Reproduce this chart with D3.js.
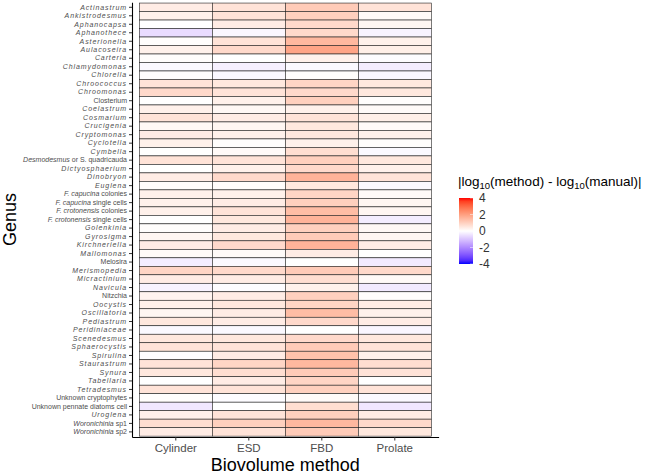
<!DOCTYPE html>
<html>
<head>
<meta charset="utf-8">
<script src="https://cdn.jsdelivr.net/npm/d3@7"></script>
<style>
  body { margin: 0; background: #fff; }
  svg { font-family: "Liberation Sans", Arial, sans-serif; }
</style>
</head>
<body>
<div id="chart"></div>
<script>
// genera, top to bottom
const genera = [
  'Actinastrum', 'Ankistrodesmus', 'Aphanocapsa', 'Aphanothece', 'Asterionella', 'Aulacoseira',
  'Carteria', 'Chlamydomonas', 'Chlorella', 'Chroococcus', 'Chroomonas', 'Closterium',
  'Coelastrum', 'Cosmarium', 'Crucigenia', 'Cryptomonas', 'Cyclotella', 'Cymbella',
  'Desmodesmus or S. quadricauda', 'Dictyosphaerium', 'Dinobryon', 'Euglena',
  'F. capucina colonies', 'F. capucina single cells', 'F. crotonensis colonies',
  'F. crotonensis single cells', 'Golenkinia', 'Gyrosigma', 'Kirchneriella', 'Mallomonas',
  'Melosira', 'Merismopedia', 'Micractinium', 'Navicula', 'Nitzchia', 'Oocystis',
  'Oscillatoria', 'Pediastrum', 'Peridiniaceae', 'Scenedesmus', 'Sphaerocystis', 'Spirulina',
  'Staurastrum', 'Synura', 'Tabellaria', 'Tetradesmus', 'Unknown cryptophytes',
  'Unknown pennate diatoms cell', 'Uroglena', 'Woronichinia sp1', 'Woronichinia sp2'
];

const methods = ['Cylinder', 'ESD', 'FBD', 'Prolate'];

// values per method, same order as genera
const cylinder = [0.4, 0.3, 0.0, -0.6, 0.05, 0.3, 0.05, -0.1, 0.05, 0.6, 0.8, 0.0,
  0.3, 0.6, 0.15, 0.4, 0.3, 0.0, 0.6, 0.0, 0.4, 0.05, 0.3, 0.3, 0.3,
  0.0, 0.05, 0.2, 0.4, 0.1, -0.3, 0.9, 0.4, -0.2, 0.25, 0.3,
  0.2, 0.5, -0.1, 0.5, 0.6, -0.05, 0.6, 0.5, 0.0, 0.6, 0.05,
  -0.4, 0.3, 0.7, 0.4];
const esd = [0.6, 0.6, 0.4, -0.15, 0.6, 0.8, 0.0, -0.25, -0.1, 0.5, 0.6, 0.3,
  0.15, 0.4, 0.2, 0.3, 0.05, 0.1, 0.6, 0.3, 0.8, 0.05, 0.3, 0.4, 0.6,
  0.5, 0.4, 0.5, 0.8, 0.1, -0.1, 0.8, 0.4, -0.05, 0.4, 0.5,
  0.4, 0.4, -0.1, 0.5, 0.6, 0.4, 0.9, 0.7, 0.4, 0.6, -0.05,
  0.0, 0.6, 1.0, 0.6];
const fbd = [1.1, 1.0, 0.8, 0.8, 1.5, 1.9, 0.3, -0.1, 0.05, 0.9, 0.8, 1.0,
  0.3, 0.6, 0.5, 0.5, 0.3, 0.7, 1.0, 0.8, 1.6, 0.5, 0.9, 1.0, 1.4,
  1.6, 1.0, 1.1, 1.6, 0.4, 0.0, 1.1, 0.7, 0.3, 1.0, 0.9,
  1.4, 0.8, 0.0, 0.8, 1.1, 1.3, 1.5, 1.1, 0.9, 1.0, 0.1,
  0.7, 1.0, 1.5, 1.1];
const prolate = [0.6, 0.1, 0.2, -0.2, 0.3, 0.35, -0.05, -0.3, -0.15, 0.5, 0.5, 0.05,
  0.1, 0.35, 0.1, 0.3, 0.05, -0.1, 0.5, 0.3, 0.6, -0.1, 0.1, 0.2, 0.2,
  -0.3, 0.15, 0.2, 0.4, 0.0, -0.35, 0.8, 0.1, -0.35, 0.05, 0.4,
  0.3, 0.4, -0.15, 0.5, 0.6, 0.3, 0.7, 0.6, 0.0, 0.6, -0.1,
  -0.4, 0.4, 0.8, 0.5];

const legendTicks = [4, 2, 0, -2, -4];

// labels set in roman type; others italic (genus part only for mixed ones)
const plainLabels = ['Closterium', 'Melosira', 'Nitzchia', 'Unknown cryptophytes', 'Unknown pennate diatoms cell'];

const seriesByMethod = { Cylinder: cylinder, ESD: esd, FBD: fbd, Prolate: prolate };
const cells = [];
methods.forEach(m => {
  genera.forEach((g, i) => cells.push({ method: m, genus: g, value: seriesByMethod[m][i] }));
});

const W = 646, H = 474;
const svg = d3.select('#chart').append('svg').attr('width', W).attr('height', H);

// PANEL
const P = { left: 132, right: 438.6, top: 2.2, bottom: 437 };

const x = d3.scaleBand().domain(methods).range([P.left, P.right]).paddingInner(0).paddingOuter(0.1);
const y = d3.scaleBand().domain(genera).range([P.top, P.bottom]).paddingInner(0).paddingOuter(0.1);

const color = d3.scaleLinear().domain([-4, 0, 4]).range(['blue', 'white', 'red']).interpolate(d3.interpolateLab);

// TILES
svg.append('g').selectAll('rect')
  .data(cells)
  .join('rect')
  .attr('x', d => x(d.method))
  .attr('y', d => y(d.genus))
  .attr('width', x.bandwidth())
  .attr('height', y.bandwidth())
  .attr('fill', d => color(d.value))
  .attr('stroke', '#222')
  .attr('stroke-width', 0.6);

// AXES
const xAxis = svg.append('g')
  .attr('transform', `translate(0,${P.bottom})`)
  .call(d3.axisBottom(x).tickSizeInner(3.5).tickSizeOuter(0).tickPadding(3));
xAxis.select('.domain').attr('stroke', '#000').attr('stroke-width', 1.1);
xAxis.selectAll('.tick line').attr('stroke', '#333');
xAxis.selectAll('.tick text').attr('fill', '#4d4d4d').style('font-size', '11.5px');

const yAxis = svg.append('g')
  .attr('transform', `translate(${P.left},0)`)
  .call(d3.axisLeft(y).tickSizeInner(3).tickSizeOuter(0).tickPadding(2));
yAxis.select('.domain').attr('stroke', '#000').attr('stroke-width', 1.1);
yAxis.selectAll('.tick line').attr('stroke', '#333');

yAxis.selectAll('.tick text')
  .attr('fill', '#4d4d4d')
  .style('font-size', '7px')
  .each(function (g) {
    const t = d3.select(this);
    t.text(null);
    if (plainLabels.includes(g)) {
      t.append('tspan').text(g);
      return;
    }
    const m = g.match(/^(.*?)( colonies| single cells| sp\d| or .*)$/);
    if (m) {
      t.append('tspan').style('font-style', 'italic').text(m[1]);
      t.append('tspan').text(m[2]);
    } else {
      t.append('tspan').style('font-style', 'italic').style('letter-spacing', '0.9px').text(g);
    }
  });

// AXIS TITLES
svg.append('text')
  .attr('x', (P.left + P.right) / 2)
  .attr('y', 471)
  .attr('text-anchor', 'middle')
  .style('font-size', '18px')
  .text('Biovolume method');

svg.append('text')
  .attr('transform', `translate(16,${(P.top + P.bottom) / 2}) rotate(-90)`)
  .attr('text-anchor', 'middle')
  .style('font-size', '18px')
  .text('Genus');

// LEGEND
const lg = svg.append('g');
const title = lg.append('text').attr('x', 458).attr('y', 186).style('font-size', '13.5px');
title.append('tspan').text('|log');
title.append('tspan').attr('dy', 3).style('font-size', '9.5px').text('10');
title.append('tspan').attr('dy', -3).text('(method) - log');
title.append('tspan').attr('dy', 3).style('font-size', '9.5px').text('10');
title.append('tspan').attr('dy', -3).text('(manual)|');

const bar = { x: 459, y: 198, w: 14, h: 66 };
const defs = svg.append('defs');
const grad = defs.append('linearGradient').attr('id', 'cbar')
  .attr('x1', 0).attr('x2', 0).attr('y1', 0).attr('y2', 1);
d3.range(0, 1.0001, 0.05).forEach(t => {
  grad.append('stop').attr('offset', t).attr('stop-color', color(4 - 8 * t));
});
lg.append('rect')
  .attr('x', bar.x).attr('y', bar.y).attr('width', bar.w).attr('height', bar.h)
  .attr('fill', 'url(#cbar)');

const ly = d3.scaleLinear().domain([4, -4]).range([bar.y, bar.y + bar.h]);
lg.selectAll('.lt')
  .data(legendTicks)
  .join('text')
  .attr('class', 'lt')
  .attr('x', bar.x + bar.w + 6)
  .attr('y', d => ly(d))
  .attr('dy', '0.35em')
  .attr('fill', '#333')
  .style('font-size', '12px')
  .text(d => d);
lg.selectAll('.tk')
  .data(legendTicks)
  .join('line')
  .attr('x1', bar.x + bar.w - 3).attr('x2', bar.x + bar.w)
  .attr('y1', d => ly(d)).attr('y2', d => ly(d))
  .attr('stroke', 'white').attr('stroke-width', 0.5);
</script>
</body>
</html>
